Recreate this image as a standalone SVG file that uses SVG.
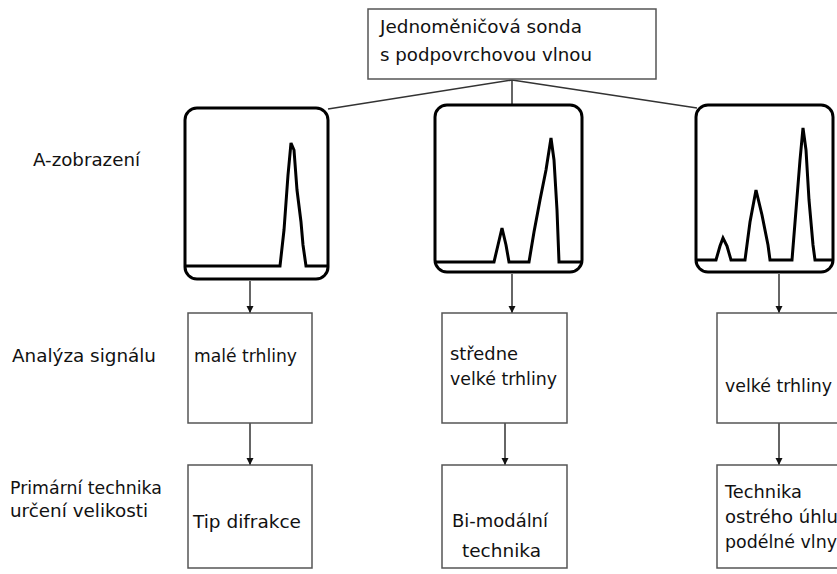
<svg xmlns="http://www.w3.org/2000/svg" width="837" height="574" viewBox="0 0 837 574">
<style>
text{font-family:"DejaVu Sans","Liberation Sans",Arial,sans-serif;font-size:17px;fill:#111;}
.box{fill:#fff;stroke:#555;stroke-width:1.5;}
.panel{fill:#fff;stroke:#000;stroke-width:3;}
.sig{fill:none;stroke:#000;stroke-width:3;stroke-linejoin:miter;}
.con{fill:none;stroke:#333;stroke-width:1.5;}
.arr{fill:none;stroke:#333;stroke-width:1.5;marker-end:url(#ah);}
</style>
<defs>
<marker id="ah" markerWidth="8" markerHeight="8" refX="7" refY="4" orient="auto" markerUnits="userSpaceOnUse">
<path d="M0,0.5 L7,4 L0,7.5 Z" fill="#111"/>
</marker>
</defs>
<g id="connectors">
<line class="con" x1="512" y1="80" x2="328" y2="109"/>
<line class="con" x1="512" y1="80" x2="512" y2="105"/>
<line class="con" x1="512" y1="80" x2="697" y2="108"/>
<line class="arr" x1="250" y1="281" x2="250" y2="313"/>
<line class="arr" x1="512" y1="274" x2="512" y2="313"/>
<line class="arr" x1="779" y1="274" x2="779" y2="313"/>
<line class="arr" x1="250" y1="423" x2="250" y2="465"/>
<line class="arr" x1="505" y1="423" x2="505" y2="465"/>
<line class="arr" x1="779" y1="423" x2="779" y2="465"/>
</g>
<g id="probe">
<rect class="box" x="368" y="9" width="288" height="70"/>
<text x="380" y="33" textLength="202" lengthAdjust="spacingAndGlyphs">Jednoměničová sonda</text>
<text x="380" y="61" textLength="212" lengthAdjust="spacingAndGlyphs">s podpovrchovou vlnou</text>
</g>
<g id="label-a">
<text x="33" y="166" textLength="107" lengthAdjust="spacingAndGlyphs">A-zobrazení</text>
</g>
<g id="label-analysis">
<text x="12" y="362" textLength="144" lengthAdjust="spacingAndGlyphs">Analýza signálu</text>
</g>
<g id="label-primary">
<text x="10" y="494" textLength="152" lengthAdjust="spacingAndGlyphs">Primární technika</text>
<text x="10" y="517" textLength="138" lengthAdjust="spacingAndGlyphs">určení velikosti</text>
</g>
<g id="scan-small">
<rect class="panel" x="185" y="108" width="143" height="171" rx="12"/>
<polyline class="sig" points="186,266 280,266 284,230 288,175 291,143 294,150 297,190 301,222 303,245 306,266 327,266"/>
</g>
<g id="scan-medium">
<rect class="panel" x="435" y="105" width="147" height="167" rx="12"/>
<polyline class="sig" points="436,262 494,262 498,245 502,228 506,245 509,262 529,262 534,232 540,200 546,170 551,138 554,160 557,210 559,262 581,262"/>
</g>
<g id="scan-large">
<rect class="panel" x="696" y="105" width="137" height="167" rx="12"/>
<polyline class="sig" points="697,260 716,260 720,246 723,238 727,246 731,260 745,260 750,222 756,190 762,215 768,245 770,260 792,260 796,210 800,160 803,128 806,150 809,200 813,245 815,260 832,260"/>
</g>
<g id="small-cracks">
<rect class="box" x="188" y="313" width="124" height="110"/>
<text x="194" y="362" textLength="103" lengthAdjust="spacingAndGlyphs">malé trhliny</text>
</g>
<g id="medium-cracks">
<rect class="box" x="442" y="313" width="125" height="110"/>
<text x="450" y="360" textLength="68" lengthAdjust="spacingAndGlyphs">středne</text>
<text x="450" y="385" textLength="107" lengthAdjust="spacingAndGlyphs">velké trhliny</text>
</g>
<g id="large-cracks">
<rect class="box" x="717" y="313" width="130" height="110"/>
<text x="725" y="392" textLength="107" lengthAdjust="spacingAndGlyphs">velké trhliny</text>
</g>
<g id="tip-diffraction">
<rect class="box" x="188" y="465" width="124" height="103"/>
<text x="193" y="528" textLength="108" lengthAdjust="spacingAndGlyphs">Tip difrakce</text>
</g>
<g id="bimodal">
<rect class="box" x="442" y="465" width="125" height="103"/>
<text x="452" y="527" textLength="96" lengthAdjust="spacingAndGlyphs">Bi-modální</text>
<text x="462" y="557" textLength="79" lengthAdjust="spacingAndGlyphs">technika</text>
</g>
<g id="longitudinal">
<rect class="box" x="717" y="465" width="130" height="103"/>
<text x="725" y="498" textLength="77" lengthAdjust="spacingAndGlyphs">Technika</text>
<text x="725" y="523" textLength="113" lengthAdjust="spacingAndGlyphs">ostrého úhlu</text>
<text x="725" y="548" textLength="112" lengthAdjust="spacingAndGlyphs">podélné vlny</text>
</g>
</svg>
